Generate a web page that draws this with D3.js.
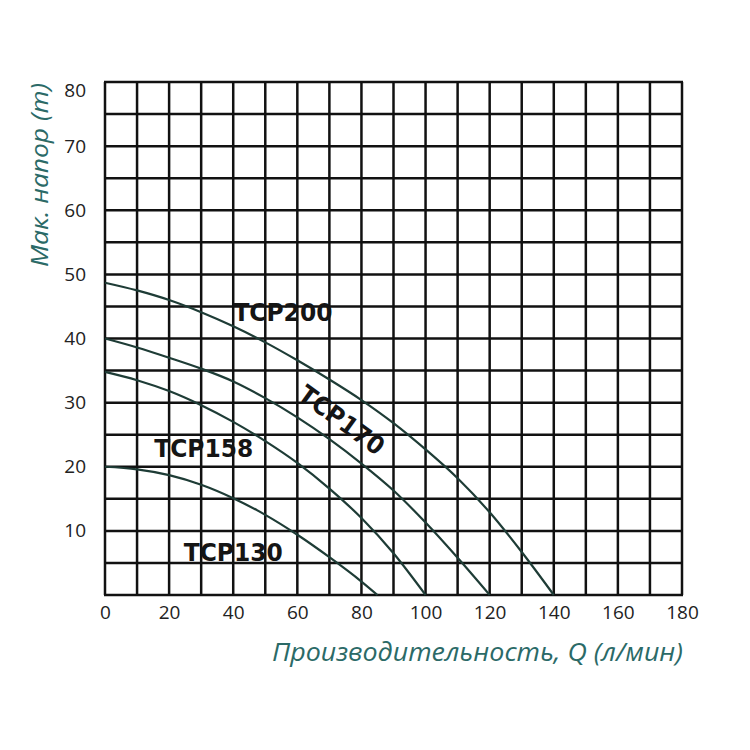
<!DOCTYPE html>
<html lang="ru">
<head>
  <meta charset="UTF-8">
  <script src="https://cdn.jsdelivr.net/npm/d3@7"></script>
  <title>Pump curves</title>
  <style>
    body { margin: 0; background: #fff; }
    svg text { font-family: "Open Sans", "Liberation Sans", sans-serif; }
  </style>
</head>
<body>
  <svg width="750" height="750" id="chart"></svg>
  <script>
    // data: flow Q (л/мин) vs head H (m)
    const qTCP130 = [0, 10, 20, 30, 40, 50, 60, 70, 80, 85];
    const hTCP130 = [20, 19.6, 18.7, 17.2, 15.1, 12.5, 9.4, 5.9, 2.1, 0];
    const qTCP158 = [0, 10, 20, 30, 40, 50, 60, 70, 80, 90, 100];
    const hTCP158 = [34.8, 33.5, 31.8, 29.6, 27, 24, 20.6, 16.6, 12, 6.5, 0];
    const qTCP170 = [0, 10, 20, 30, 40, 50, 60, 70, 80, 90, 100, 110, 120];
    const hTCP170 = [40, 38.6, 37, 35.3, 33.3, 30.7, 27.7, 24.3, 20.5, 16.3, 11.3, 5.8, 0];
    const qTCP200 = [0, 10, 20, 30, 40, 50, 60, 70, 80, 90, 100, 110, 120, 130, 140];
    const hTCP200 = [48.7, 47.5, 46, 44.1, 41.9, 39.4, 36.6, 33.6, 30.4, 26.8, 22.7, 18.2, 12.9, 6.7, 0];

    const xTicks = [0, 20, 40, 60, 80, 100, 120, 140, 160, 180];
    const yTicks = [10, 20, 30, 40, 50, 60, 70, 80];

    // label positions in data units: [name, q, h, angle]
    const labels = [
      ["TCP200", 55.5, 44.1, 0],
      ["TCP170", 73.9, 27.3, 36],
      ["TCP158", 30.8, 22.9, 0],
      ["TCP130", 40, 6.7, 0]
    ];

    const series = [
      { q: qTCP130, h: hTCP130 },
      { q: qTCP158, h: hTCP158 },
      { q: qTCP170, h: hTCP170 },
      { q: qTCP200, h: hTCP200 }
    ];

    const svg = d3.select("#chart");
    const x = d3.scaleLinear().domain([0, 180]).range([105, 682]);
    const y = d3.scaleLinear().domain([0, 80]).range([595, 82]);

    const grid = svg.append("g").attr("stroke", "#111").attr("stroke-width", 2.5);

    // grid: every 10 on Q, every 5 on H
    grid.selectAll(".vx").data(d3.range(0, 181, 10)).enter().append("line")
      .attr("x1", d => x(d)).attr("x2", d => x(d))
      .attr("y1", y(0)).attr("y2", y(80));
    grid.selectAll(".hy").data(d3.range(0, 81, 5)).enter().append("line")
      .attr("y1", d => y(d)).attr("y2", d => y(d))
      .attr("x1", x(0) - 1).attr("x2", x(180) + 1);

    // curves
    const line = d3.line()
      .x(d => x(d[0])).y(d => y(d[1]))
      .curve(d3.curveMonotoneX);

    svg.append("g").selectAll("path").data(series).enter().append("path")
      .attr("d", s => line(s.q.map((v, i) => [v, s.h[i]])))
      .attr("fill", "none")
      .attr("stroke", "#1e3c36")
      .attr("stroke-width", 2.2);

    // axes (text only)
    const axX = svg.append("g").attr("transform", "translate(0,602)")
      .call(d3.axisBottom(x).tickValues(xTicks).tickSize(0).tickPadding(3));
    const axY = svg.append("g").attr("transform", "translate(89,0)")
      .call(d3.axisLeft(y).tickValues(yTicks).tickSize(0).tickPadding(3));
    [axX, axY].forEach(a => {
      a.select(".domain").remove();
      a.selectAll("text")
        .style("font-family", "'Open Sans', sans-serif")
        .style("font-size", "19px")
        .attr("fill", "#222");
    });
    axY.selectAll("text").filter(d => d === 80).attr("dy", "0.75em");

    // curve labels
    svg.append("g").selectAll("text").data(labels).enter().append("text")
      .attr("transform", d => `translate(${x(d[1])},${y(d[2])}) rotate(${d[3]})`)
      .attr("text-anchor", "middle")
      .attr("dy", "0.36em")
      .attr("textLength", 99)
      .attr("lengthAdjust", "spacingAndGlyphs")
      .style("font-family", "'DejaVu Sans', sans-serif")
      .style("font-size", "25px")
      .style("font-weight", "bold")
      .attr("fill", "#151515")
      .text(d => d[0]);

    // axis titles
    svg.append("text")
      .attr("transform", "translate(40,175) rotate(-90)")
      .attr("text-anchor", "middle")
      .attr("dy", "0.35em")
      .attr("textLength", 184)
      .attr("lengthAdjust", "spacingAndGlyphs")
      .style("font-size", "23px")
      .style("font-style", "italic")
      .attr("fill", "#2b6a67")
      .text("Мак. напор (m)");

    svg.append("text")
      .attr("x", 683).attr("y", 652)
      .attr("text-anchor", "end")
      .attr("dy", "0.35em")
      .attr("textLength", 411)
      .attr("lengthAdjust", "spacingAndGlyphs")
      .style("font-size", "25px")
      .style("font-style", "italic")
      .attr("fill", "#2b6a67")
      .text("Производительность, Q (л/мин)");
  </script>
</body>
</html>
